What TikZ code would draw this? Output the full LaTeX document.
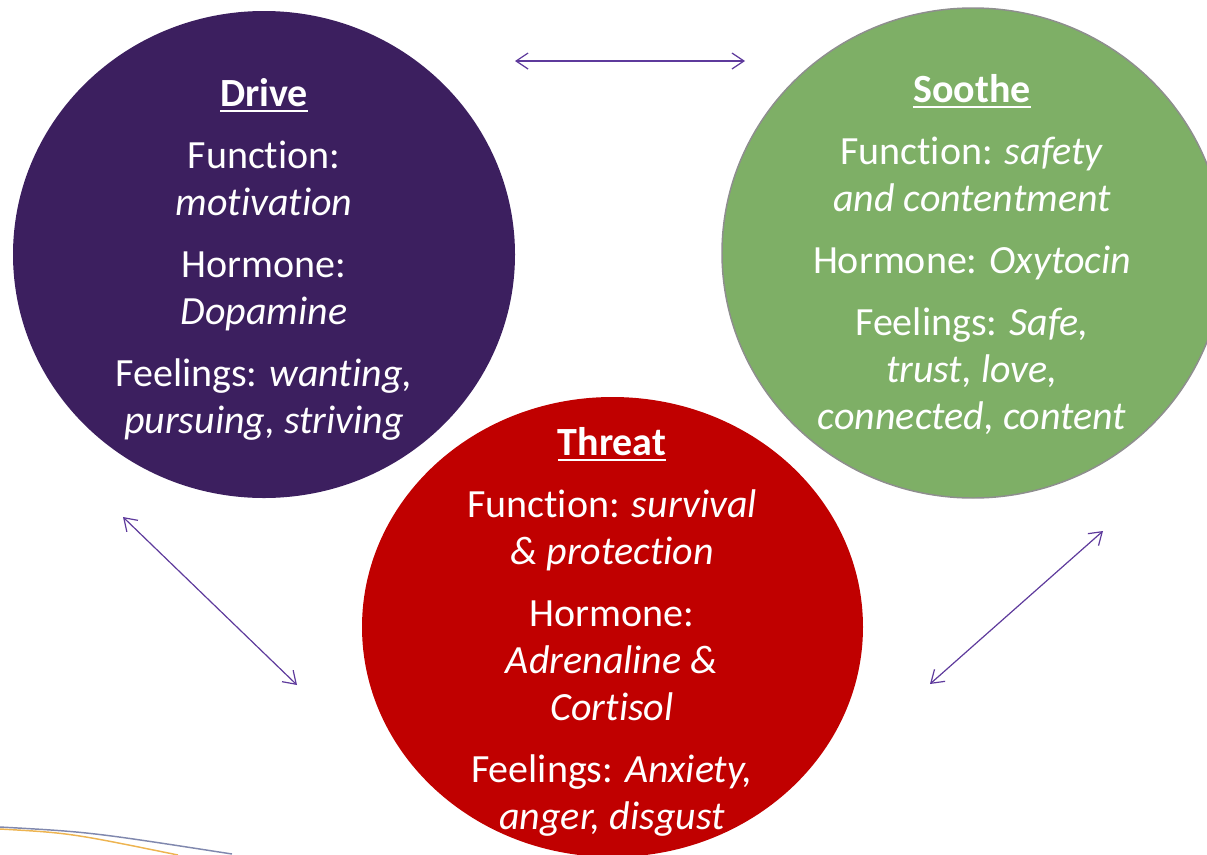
\documentclass[tikz,border=0pt]{standalone}
\usepackage{fontspec}
\setmainfont{Carlito}[Ligatures=NoCommon]
\usetikzlibrary{arrows.meta,shapes.geometric}
\definecolor{drivepurple}{HTML}{3C1F5F}
\definecolor{soothegreen}{HTML}{7EAF66}
\definecolor{threatred}{HTML}{C00000}
\definecolor{linkpurple}{HTML}{5E3A9C}
\definecolor{rimgray}{HTML}{8E8E8E}
\definecolor{swooshblue}{HTML}{8088AE}
\definecolor{swooshorange}{HTML}{EDB451}
\newcommand{\headword}[1]{\setbox0\hbox{\textbf{#1}}\rlap{\rule[-4.5pt]{\wd0}{1.5pt}}\box0}
\begin{document}
\begin{tikzpicture}[x=0.75pt,y=-0.75pt]
        \tikzset{
          blob/.style={ellipse,inner sep=0mm,minimum width=376.5pt},
          lbl/.style={text=white,align=center,inner sep=0mm,anchor=north,
            font=\fontsize{30}{35.25}\selectfont},
          link/.style={linkpurple,line width=0.9pt,
            {Straight Barb[length=9pt,width=12pt]}-{Straight Barb[length=9pt,width=12pt]}},
        }
        \useasboundingbox (0,0) rectangle (1207,854);
        \clip (0,0) rectangle (1207,854);
        %SWOOSH
        \draw[swooshblue,line width=1.1pt] (0,827) .. controls (90,832) .. (232,854);
        \draw[swooshorange,line width=1.1pt] (0,829) .. controls (70,833) .. (178,855);
        %CIRCLES
        \node[blob,fill=drivepurple,minimum height=365.25pt] (drive) at (264,254.5) {};
        \node[blob,fill=soothegreen,draw=rimgray,line width=1.1pt,minimum height=367.5pt] (soothe) at (973,253) {};
        \node[blob,fill=threatred,minimum width=375.75pt,minimum height=345pt] (threat) at (612.5,627) {};
        %TEXTS
        \node[lbl] (drivetxt) at (264,78) {\headword{Drive}\\[11.25pt]
          Function:\\ \textit{motivation}\\[11.25pt]
          Hormone:\\ \textit{Dopamine}\\[11.25pt]
          Feelings: \textit{wanting,}\\ \textit{pursuing, striving}};
        \node[lbl] (soothetxt) at (972,74) {\headword{Soothe}\\[11.25pt]
          Function: \textit{safety}\\ \textit{and contentment}\\[11.25pt]
          Hormone: \textit{Oxytocin}\\[11.25pt]
          Feelings: \textit{Safe,}\\ \textit{trust, love,}\\ \textit{connected, content}};
        \node[lbl] (threattxt) at (612,427) {\headword{Threat}\\[11.25pt]
          Function: \textit{survival}\\ \textit{\& protection}\\[11.25pt]
          Hormone:\\ \textit{Adrenaline \&}\\ \textit{Cortisol}\\[11.25pt]
          Feelings: \textit{Anxiety,}\\ \textit{anger, disgust}};
        %ARROWS
        \coordinate (topL) at (515,61);
        \coordinate (topR) at (745,61);
        \coordinate (leftA) at (123,517);
        \coordinate (leftB) at (297,685);
        \coordinate (rightA) at (1103,531);
        \coordinate (rightB) at (930,684);
        \foreach \a/\b in {topL/topR,leftA/leftB,rightA/rightB}{
            \draw[link] (\a) -- (\b);
        }
\end{tikzpicture}
\end{document}
